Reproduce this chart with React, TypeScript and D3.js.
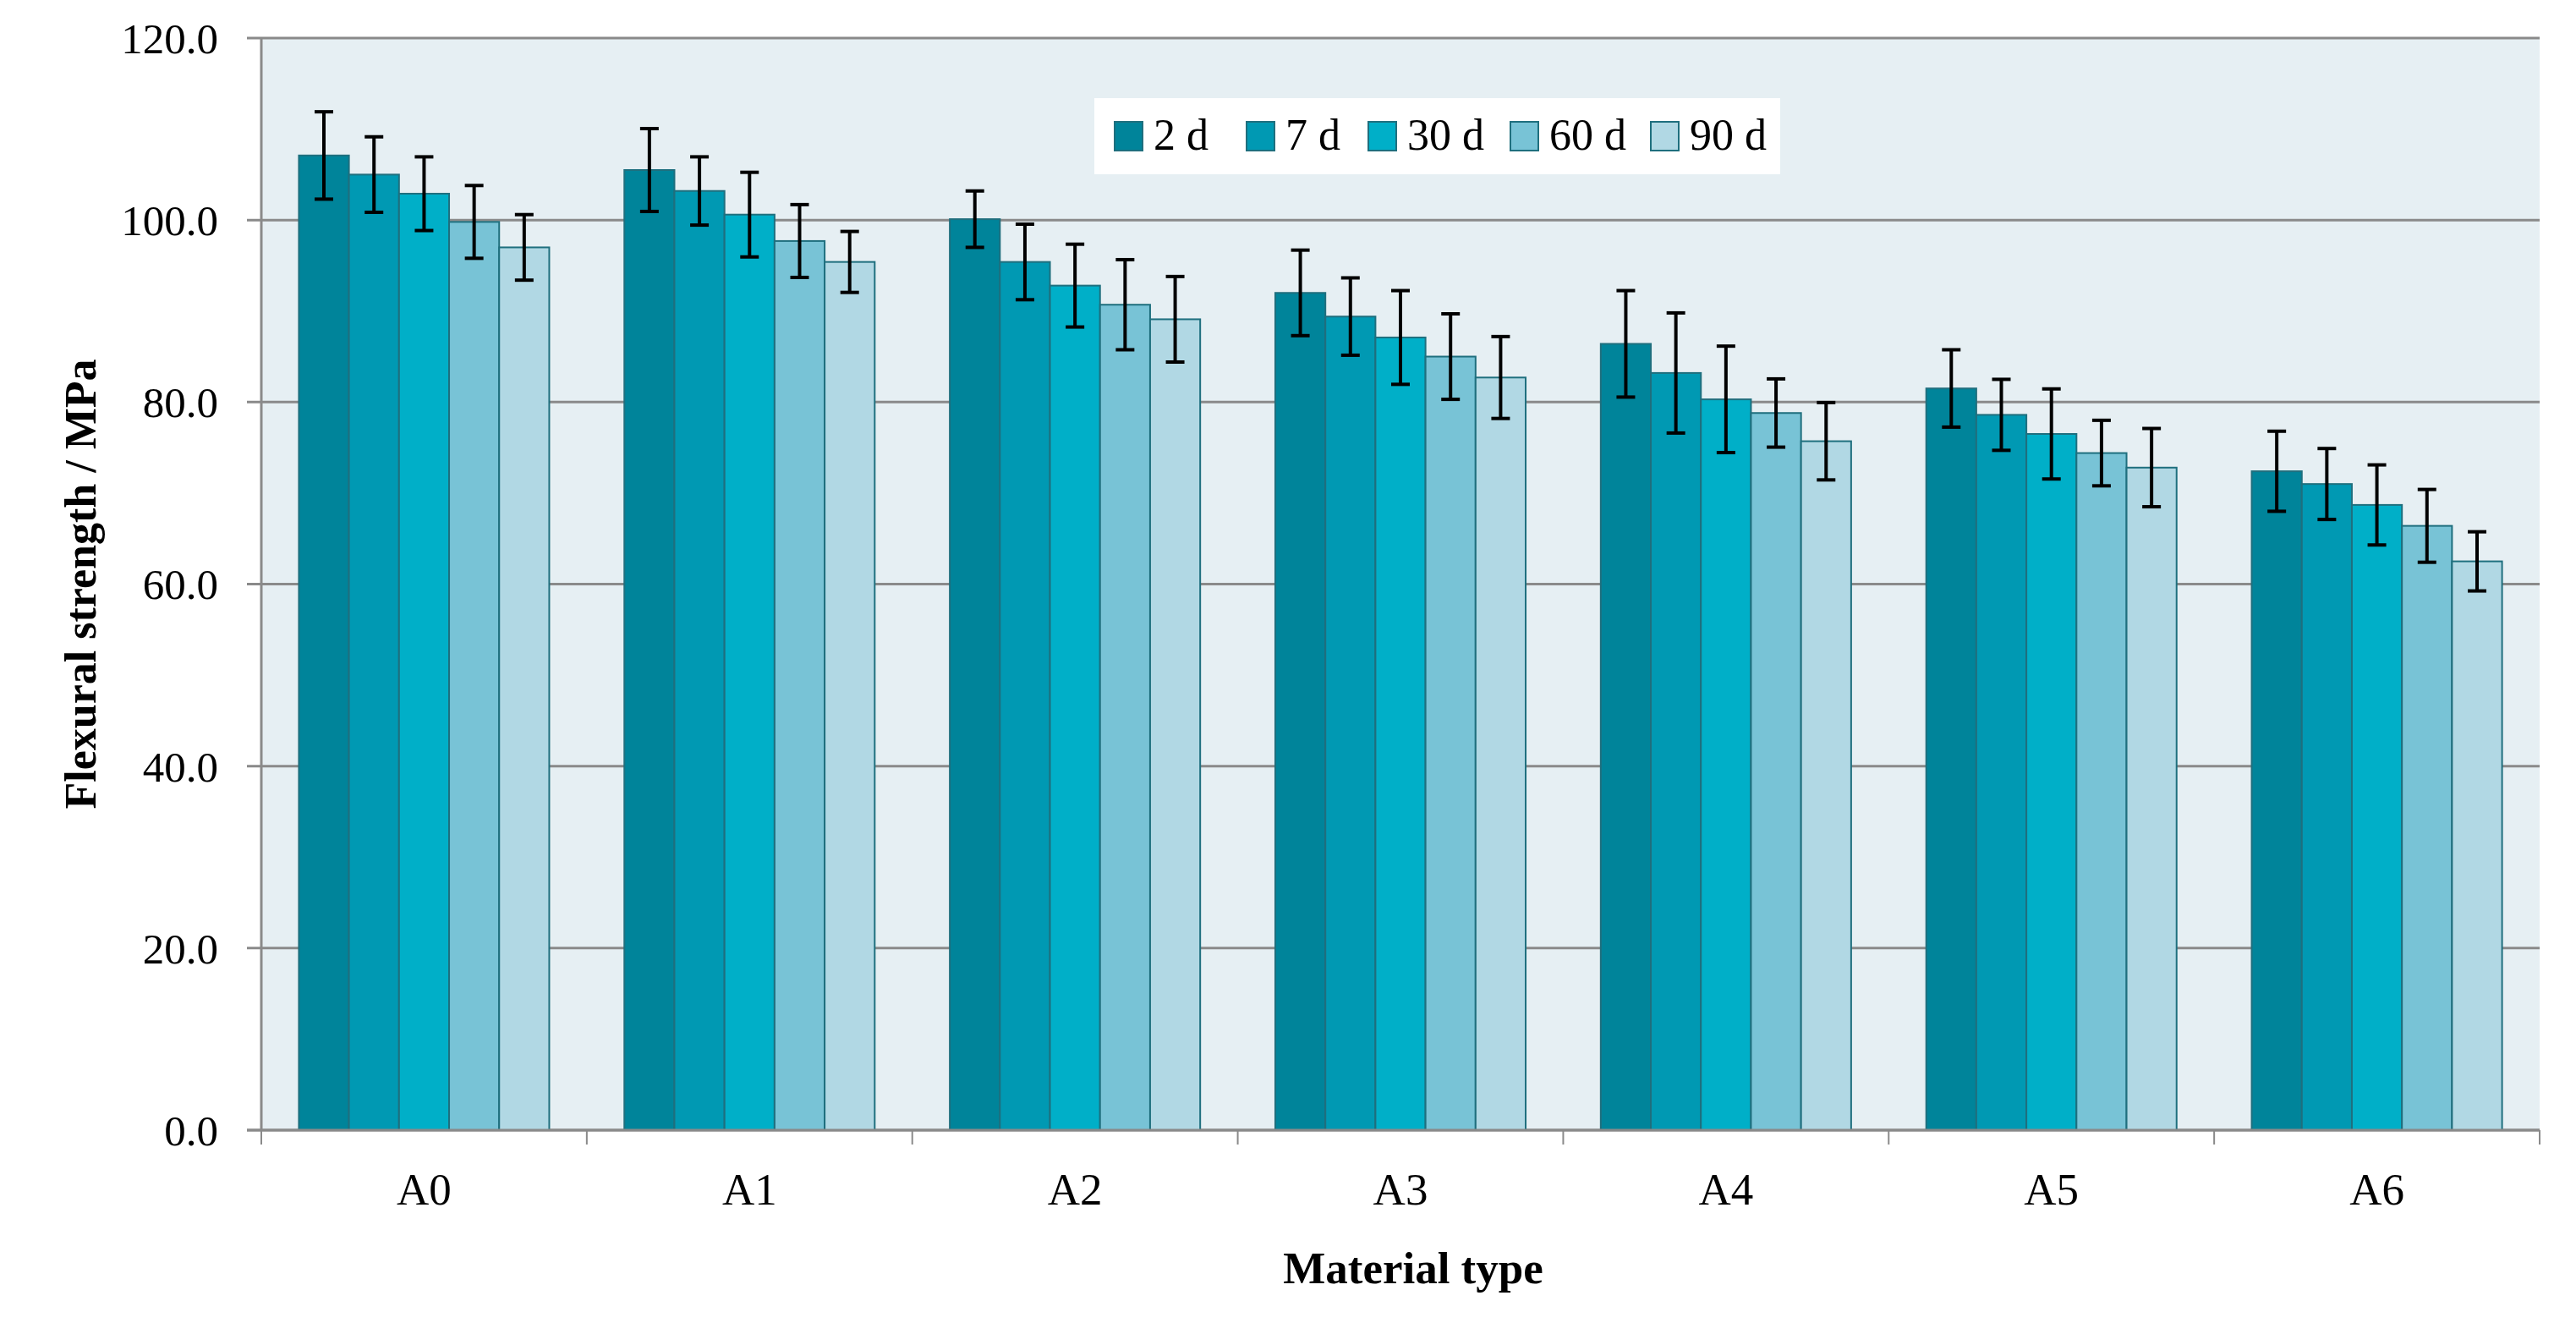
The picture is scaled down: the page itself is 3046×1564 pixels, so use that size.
import React from 'react';
import * as d3 from 'd3';

const categories = ['A0', 'A1', 'A2', 'A3', 'A4', 'A5', 'A6'];
const seriesNames = ['2 d', '7 d', '30 d', '60 d', '90 d'];
const seriesColors = ['#00849a', '#0099b3', '#00afc8', '#78c3d6', '#b1d8e4'];

const values2d = [107.1, 105.5, 100.1, 92.0, 86.4, 81.5, 72.4];
const values7d = [105.0, 103.2, 95.4, 89.4, 83.2, 78.6, 71.0];
const values30d = [102.9, 100.6, 92.8, 87.1, 80.3, 76.5, 68.7];
const values60d = [99.8, 97.7, 90.7, 85.0, 78.8, 74.4, 66.4];
const values90d = [97.0, 95.4, 89.1, 82.7, 75.7, 72.8, 62.5];

const err2d = [4.8, 4.55, 3.1, 4.7, 5.85, 4.25, 4.4];
const err7d = [4.15, 3.75, 4.15, 4.25, 6.6, 3.9, 3.9];
const err30d = [4.05, 4.65, 4.55, 5.15, 5.85, 4.95, 4.4];
const err60d = [4.0, 4.0, 4.95, 4.7, 3.75, 3.6, 4.0];
const err90d = [3.6, 3.35, 4.7, 4.5, 4.25, 4.3, 3.25];

const yTicks = [0, 20, 40, 60, 80, 100, 120];

const seriesValues = [values2d, values7d, values30d, values60d, values90d];
const seriesErrors = [err2d, err7d, err30d, err60d, err90d];

const W = 3046;
const H = 1564;
const margin = { left: 309, right: 43, top: 45, bottom: 228 };
const font = '"Liberation Serif", "Times New Roman", serif';

const App = () => {
  const x = d3
    .scaleBand()
    .domain(categories)
    .range([margin.left, W - margin.right]);

  const y = d3
    .scaleLinear()
    .domain([0, 120])
    .range([H - margin.bottom, margin.top]);

  // excel style gap width 150%
  const bw = x.bandwidth() / 6.5;
  const xi = d3
    .scaleBand()
    .domain(seriesNames)
    .range([0.75 * bw, x.bandwidth() - 0.75 * bw]);

  const fmt = d3.format('.1f');
  const x0 = margin.left;
  const x1 = W - margin.right;
  const yBase = y(0);

  const legendX = [1318, 1474, 1618, 1786, 1952];

  return (
    <svg
      width={W}
      height={H}
      style={{ position: 'absolute', left: 0, top: 0, background: '#fff' }}
      fontFamily={font}
    >
      <rect x={x0} y={y(120)} width={x1 - x0} height={yBase - y(120)} fill="#e6eff3" />

      {yTicks.map((t) => (
        <g key={t}>
          <line x1={x0 - 17} x2={x1} y1={y(t)} y2={y(t)} stroke="#8a8a8a" strokeWidth={3} />
          <text x={258} y={y(t)} dy="0.35em" textAnchor="end" fontSize={51} fill="#000">
            {fmt(t)}
          </text>
        </g>
      ))}

      {categories.map((c, ci) => (
        <g key={c} transform={`translate(${x(c)},0)`}>
          {seriesNames.map((s, si) => {
            const v = seriesValues[si][ci];
            return (
              <rect
                key={s}
                x={xi(s)}
                y={y(v)}
                width={xi.bandwidth()}
                height={yBase - y(v)}
                fill={seriesColors[si]}
                stroke="#1f6f7e"
                strokeWidth={2}
              />
            );
          })}
          {seriesNames.map((s, si) => {
            const v = seriesValues[si][ci];
            const e = seriesErrors[si][ci];
            const cx = (xi(s) as number) + xi.bandwidth() / 2;
            return (
              <g key={s} stroke="#000" strokeWidth={4}>
                <line x1={cx} x2={cx} y1={y(v + e)} y2={y(v - e)} />
                <line x1={cx - 11} x2={cx + 11} y1={y(v + e)} y2={y(v + e)} />
                <line x1={cx - 11} x2={cx + 11} y1={y(v - e)} y2={y(v - e)} />
              </g>
            );
          })}
          <text
            x={x.bandwidth() / 2}
            y={1424}
            textAnchor="middle"
            fontSize={53}
            fill="#000"
          >
            {c}
          </text>
        </g>
      ))}

      {/* axes */}
      <line x1={x0} x2={x0} y1={y(120)} y2={yBase} stroke="#8a8a8a" strokeWidth={3} />
      <line x1={x0 - 17} x2={x1} y1={yBase} y2={yBase} stroke="#8a8a8a" strokeWidth={3} />
      {[...categories.map((c) => x(c) as number), x1].map((bx, i) => (
        <line key={i} x1={bx} x2={bx} y1={yBase} y2={yBase + 17} stroke="#8a8a8a" strokeWidth={2} />
      ))}

      {/* legend */}
      <rect x={1294} y={116} width={811} height={90} fill="#fff" />
      {seriesNames.map((s, i) => (
        <g key={s}>
          <rect
            x={legendX[i]}
            y={144}
            width={33}
            height={34}
            fill={seriesColors[i]}
            stroke="#1f6f7e"
            strokeWidth={2}
          />
          <text x={legendX[i] + 46} y={177} fontSize={52} fill="#000">
            {s}
          </text>
        </g>
      ))}

      <text
        transform={`translate(95,${(y(120) + yBase) / 2}) rotate(-90)`}
        textAnchor="middle"
        dy="0.35em"
        fontSize={52}
        fontWeight="bold"
        fill="#000"
      >
        Flexural strength / MPa
      </text>
      <text x={1671} y={1517} textAnchor="middle" fontSize={53} fontWeight="bold" fill="#000">
        Material type
      </text>
    </svg>
  );
};

export default App;
